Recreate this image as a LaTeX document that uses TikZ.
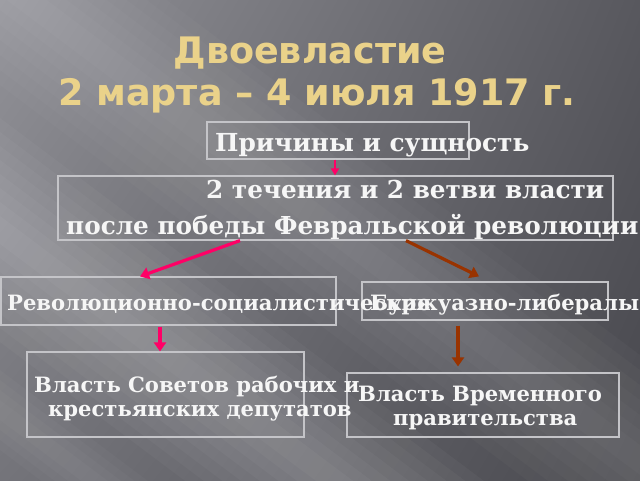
\documentclass[tikz,border=0pt]{standalone}
\usepackage{fontspec}
\setmainfont{DejaVu Serif}
\newfontfamily\ttlfont{DejaVu Sans}
\usetikzlibrary{arrows.meta,shadings}
\definecolor{ttlc}{HTML}{EAD28A}
\definecolor{boxc}{HTML}{C4C4C8}
\definecolor{pinkc}{HTML}{FF0066}
\definecolor{brownc}{HTML}{993300}
\definecolor{txtc}{HTML}{F6F6F6}
\definecolor{bgul}{HTML}{929298}
\definecolor{bgur}{HTML}{58585E}
\definecolor{bgll}{HTML}{74747A}
\definecolor{bglr}{HTML}{48484E}
\begin{document}
\begin{tikzpicture}[x=1pt,y=-1pt,
  box/.style={draw=boxc, line width=1.2pt, inner sep=0pt},
  txt/.style={text=txtc, font=\bfseries\fontsize{#1}{#1}\selectfont, inner sep=0pt, anchor=base west},
  ttl/.style={text=ttlc, font=\ttlfont\bfseries\fontsize{36.5}{36.5}\selectfont, inner sep=0pt, anchor=base},
  pinkarrow/.style={draw=pinkc, line width=3.2pt, -{Triangle[width=12pt,length=9pt]}},
  brownarrow/.style={draw=brownc, line width=3.2pt, -{Triangle[width=12pt,length=9pt]}},
  thinarrow/.style={draw=pinkc, line width=2pt, -{Triangle[width=8pt,length=7pt]}},
  streak/.style={fill=white, draw=none}]
\useasboundingbox (0,0) rectangle (640,480);
% background
\shade[upper left=bgul, upper right=bgur, lower left=bgll, lower right=bglr]
  (0,0) rectangle (640,480);
\begin{scope}
\clip (0,0) rectangle (640,480);
\foreach \w in {14,28,...,112}
  \fill[streak, opacity=0.03] (0,230-\w) -- (0,230+\w) -- (640,710+\w) -- (640,710-\w) -- cycle;
\foreach \w in {15,30,...,105}
  \fill[streak, opacity=0.025] (0,-20-\w) -- (0,-20+\w) -- (640,460+\w) -- (640,460-\w) -- cycle;
\foreach \w in {10,20,...,40}
  \fill[streak, opacity=0.025] (0,410-\w) -- (0,410+\w) -- (640,890+\w) -- (640,890-\w) -- cycle;
\end{scope}
% title
\node[ttl] (title1) at (310,63) {Двоевластие};
\node[ttl] (title2) at (317,105) {2 марта – 4 июля 1917 г.};
% boxes
\node[box, minimum width=262pt, minimum height=37pt] (b1) at (338,140.5) {};
\node[box, minimum width=555pt, minimum height=64pt] (b2) at (335.5,208) {};
\node[box, minimum width=335pt, minimum height=48pt] (b3) at (168.5,301) {};
\node[box, minimum width=246pt, minimum height=38pt] (b4) at (485,301) {};
\node[box, minimum width=277pt, minimum height=85pt] (b5) at (165.5,394.5) {};
\node[box, minimum width=272pt, minimum height=64pt] (b6) at (483,405) {};
% texts
\node[txt=24.8] (t1) at (215,151) {Причины и сущность};
\node[txt=24.7] (t2a) at (206,198) {2 течения и 2 ветви власти};
\node[txt=24.7] (t2b) at (66,234) {после победы Февральской революции};
\node[txt=21.1] (t3) at (7,310) {Революционно-социалистические};
\node[txt=21.1] (t4) at (370,310) {Буржуазно-либералы};
\node[txt=21.1] (t5a) at (34,392) {Власть Советов рабочих и};
\node[txt=21.1] (t5b) at (48,416) {крестьянских депутатов};
\node[txt=21.1] (t6a) at (358,401) {Власть Временного};
\node[txt=21.1] (t6b) at (393,425) {правительства};
% arrows
\draw[thinarrow] ([xshift=-3pt]b1.south) -- ([xshift=-0.5pt]b2.north);
\draw[pinkarrow] ([xshift=-95.5pt]b2.south) -- ([xshift=-28.5pt]b3.north);
\draw[brownarrow] ([xshift=70.5pt]b2.south) -- ([xshift=-6pt,yshift=5pt]b4.north);
\draw[pinkarrow] ([xshift=-8.5pt,yshift=-1pt]b3.south) -- ([xshift=-5.5pt]b5.north);
\draw[brownarrow] ([xshift=-27pt,yshift=-5pt]b4.south) -- ([xshift=-25pt,yshift=6pt]b6.north);
\end{tikzpicture}
\end{document}
